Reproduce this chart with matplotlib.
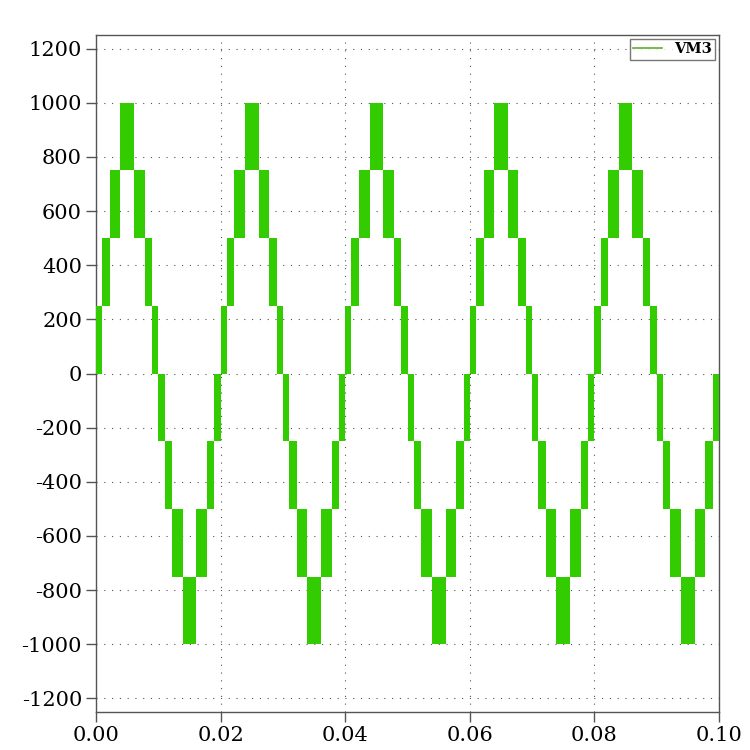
import numpy as np
import matplotlib.pyplot as plt

# switching instants (s) where the output moves to the next band, 5 periods of 50 Hz
t_edges = [
    0.000, 0.001, 0.0022, 0.0039, 0.0061, 0.0078, 0.009,
    0.010, 0.011, 0.0122, 0.0139, 0.0161, 0.0178, 0.019,
    0.020, 0.021, 0.0222, 0.0239, 0.0261, 0.0278, 0.029,
    0.030, 0.031, 0.0322, 0.0339, 0.0361, 0.0378, 0.039,
    0.040, 0.041, 0.0422, 0.0439, 0.0461, 0.0478, 0.049,
    0.050, 0.051, 0.0522, 0.0539, 0.0561, 0.0578, 0.059,
    0.060, 0.061, 0.0622, 0.0639, 0.0661, 0.0678, 0.069,
    0.070, 0.071, 0.0722, 0.0739, 0.0761, 0.0778, 0.079,
    0.080, 0.081, 0.0822, 0.0839, 0.0861, 0.0878, 0.089,
    0.090, 0.091, 0.0922, 0.0939, 0.0961, 0.0978, 0.099,
    0.100, 0.1004,
]
# lower level of the PWM band in each interval (band is 250 V high)
band_low = [
    0, 250, 500, 750, 500, 250, 0, -250, -500, -750, -1000, -750, -500, -250,
    0, 250, 500, 750, 500, 250, 0, -250, -500, -750, -1000, -750, -500, -250,
    0, 250, 500, 750, 500, 250, 0, -250, -500, -750, -1000, -750, -500, -250,
    0, 250, 500, 750, 500, 250, 0, -250, -500, -750, -1000, -750, -500, -250,
    0, 250, 500, 750, 500, 250, 0, -250, -500, -750, -1000, -750, -500, -250,
    0,
]
band_h = 250
xticks = [0.00, 0.02, 0.04, 0.06, 0.08, 0.10]
yticks = list(range(-1200, 1201, 200))

green = '#33cc00'
plt.rcParams['axes.unicode_minus'] = False
plt.rcParams['font.family'] = 'DejaVu Serif'

fig = plt.figure(figsize=(7.5, 7.5), dpi=100)
ax = fig.add_axes([0.128, 0.0507, 0.8307, 0.9026])

t = np.array(t_edges)
ax.bar(t[:-1], band_h, width=np.diff(t), bottom=band_low, align='edge',
       color=green, linewidth=0, zorder=3)
ax.plot([], [], color='#5cb030', lw=1.2, label='VM3')

ax.set_xlim(0, 0.1)
ax.set_ylim(-1250, 1250)
ax.set_xticks(xticks)
ax.set_xticklabels(['%.2f' % v for v in xticks])
ax.set_yticks(yticks)
ax.set_yticklabels([str(v) for v in yticks])
ax.tick_params(length=7, width=1, color='#555555', labelsize=15, pad=3)
for s in ax.spines.values():
    s.set_color('#555555')
    s.set_linewidth(1)
ax.grid(True, color='#555555', linestyle=(0, (1, 6)), linewidth=0.8, zorder=1)
ax.set_axisbelow(True)

leg = ax.legend(loc='upper right', frameon=True, fancybox=False,
                borderpad=0.25, handlelength=2.0, handletextpad=0.8,
                borderaxespad=0.25, prop={'weight': 'bold', 'size': 10.5})
leg.get_frame().set_edgecolor('#555555')
leg.get_frame().set_linewidth(1)

fig.savefig('out.png', dpi=100)
